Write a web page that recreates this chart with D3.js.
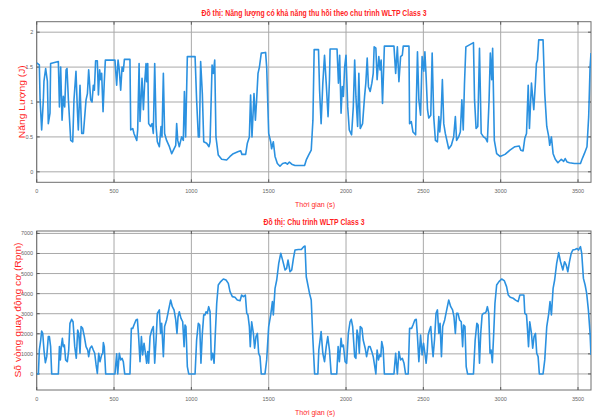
<!DOCTYPE html>
<html>
<head>
<meta charset="utf-8">
<script src="https://cdn.jsdelivr.net/npm/d3@7"></script>
<style>
  body { margin: 0; background: #fff; }
  svg { display: block; font-family: "Liberation Sans", Arial, sans-serif; }
</style>
</head>
<body>
<svg id="chart" width="592" height="419"></svg>
<script>
/************************************ Data *******************************/
var xTicks = [0, 500, 1000, 1500, 2000, 2500, 3000, 3500];
var energyTicks = [0, 0.5, 1, 1.5, 2];
var rpmTicks = [0, 1000, 2000, 3000, 4000, 5000, 6000, 7000];

// [time (s), energy (J)]
var energyPoints = [
  [0,1.56],[17,1.53],[22,1.03],[32,0.6],[43,1.03],[47,1.3],[58,1.48],[69,1.3],[75,0.69],[86,0.84],
  [90,1.55],[140,1.58],[147,0.93],[155,1.5],[164,0.74],[172,1.08],[181,0.93],[190,1.46],[196,1.48],[205,1.03],
  [220,0.45],[233,0.43],[241,1.03],[254,1.44],[263,0.89],[269,0.6],[280,1.24],[291,0.55],[302,0.55],[319,1.03],
  [328,1.12],[336,1.46],[349,1.03],[358,1.0],[366,1.24],[373,1.17],[381,1.59],[392,1.59],[399,1.1],[407,1.46],
  [414,1.32],[420,1.41],[429,0.86],[437,1.29],[444,1.6],[506,1.6],[517,1.24],[526,1.6],[534,1.46],[543,1.17],
  [552,1.5],[560,1.44],[567,1.61],[603,1.61],[608,0.6],[621,0.62],[629,0.55],[647,0.45],[653,0.6],[662,1.55],
  [668,0.72],[681,1.34],[690,0.89],[698,1.27],[707,1.55],[711,1.29],[718,1.55],[724,0.69],[737,0.65],[746,0.69],
  [754,0.55],[763,1.55],[772,0.65],[780,0.43],[793,0.36],[804,0.65],[810,0.5],[819,1.41],[827,0.55],[840,0.45],
  [858,0.36],[873,0.26],[884,0.31],[899,0.38],[905,0.69],[912,0.45],[922,0.36],[937,0.5],[948,0.45],[955,1.15],
  [963,0.5],[974,1.65],[1024,1.65],[1034,1.03],[1045,0.5],[1052,0.5],[1060,1.58],[1071,1.12],[1080,0.43],[1099,0.41],
  [1114,0.36],[1121,0.43],[1134,1.53],[1142,1.41],[1151,1.6],[1159,0.5],[1174,0.24],[1196,0.18],[1228,0.17],[1250,0.22],
  [1271,0.26],[1304,0.29],[1319,0.3],[1327,0.25],[1351,0.25],[1362,0.41],[1375,0.5],[1383,1.1],[1392,0.5],[1405,1.12],
  [1414,0.74],[1422,1.03],[1431,1.41],[1440,1.5],[1452,1.7],[1480,1.71],[1487,1.5],[1500,0.55],[1513,0.43],[1519,0.33],
  [1530,0.43],[1541,0.22],[1556,0.12],[1573,0.08],[1590,0.12],[1608,0.13],[1621,0.11],[1634,0.14],[1649,0.11],[1670,0.09],
  [1702,0.09],[1732,0.09],[1743,0.17],[1758,0.24],[1775,0.31],[1786,0.74],[1794,1.75],[1822,1.75],[1829,1.17],[1839,0.69],
  [1850,1.27],[1861,1.67],[1872,1.27],[1884,0.79],[1893,1.32],[1897,1.76],[1942,1.76],[1951,1.27],[1959,1.67],[1968,0.84],
  [1976,1.22],[1983,1.08],[1991,1.5],[2000,1.67],[2011,0.93],[2021,0.6],[2036,0.53],[2047,0.93],[2056,1.6],[2064,1.08],
  [2075,0.65],[2083,1.41],[2092,0.62],[2107,0.69],[2120,1.08],[2128,1.27],[2137,1.63],[2145,1.22],[2156,1.15],[2167,1.27],
  [2176,1.41],[2182,1.79],[2193,1.77],[2201,1.32],[2212,1.65],[2220,1.46],[2227,1.6],[2236,0.98],[2248,1.8],[2310,1.8],
  [2321,1.41],[2332,1.79],[2342,1.29],[2353,1.65],[2364,1.67],[2370,1.8],[2407,1.8],[2411,0.69],[2422,0.72],[2433,0.57],
  [2450,0.53],[2462,1.72],[2471,1.03],[2482,0.81],[2492,1.65],[2503,1.44],[2510,1.72],[2518,1.36],[2527,0.89],[2535,0.77],
  [2548,0.81],[2557,1.7],[2567,0.79],[2578,0.45],[2591,0.43],[2600,0.79],[2606,0.57],[2614,0.77],[2623,1.32],[2632,0.69],
  [2642,0.55],[2664,0.33],[2681,0.38],[2696,0.5],[2707,0.79],[2715,0.45],[2728,0.5],[2739,0.57],[2749,1.03],[2758,0.6],
  [2766,1.27],[2775,1.79],[2824,1.85],[2831,1.03],[2841,0.62],[2852,0.65],[2863,1.77],[2874,0.55],[2889,0.5],[2903,0.48],
  [2914,0.43],[2925,1.03],[2933,1.7],[2942,1.32],[2948,1.77],[2959,0.45],[2974,0.26],[2996,0.22],[3028,0.25],[3060,0.31],
  [3092,0.36],[3120,0.37],[3130,0.31],[3145,0.3],[3156,0.48],[3167,0.55],[3178,1.24],[3186,0.62],[3199,1.27],[3214,0.89],
  [3225,1.29],[3231,1.55],[3238,1.6],[3246,1.89],[3274,1.89],[3285,1.12],[3298,0.65],[3311,0.5],[3317,0.38],[3328,0.5],
  [3339,0.26],[3353,0.18],[3370,0.13],[3392,0.18],[3407,0.15],[3417,0.19],[3430,0.14],[3445,0.13],[3477,0.12],[3516,0.12],
  [3524,0.17],[3541,0.26],[3558,0.36],[3569,0.79],[3578,1.5],[3584,1.7]
];

// [time (s), engine speed (rpm)]
var rpmPoints = [
  [0,0],[11,0],[17,1190],[26,1690],[32,2140],[39,2020],[47,1190],[56,560],[65,860],[75,1860],
  [82,1860],[90,1360],[97,0],[140,0],[147,1360],[153,700],[159,1360],[166,1775],[172,1360],[179,1440],
  [187,700],[198,610],[207,1190],[215,2520],[226,2720],[235,2600],[246,1360],[256,780],[265,2190],[272,2020],
  [280,1030],[287,2360],[297,2270],[308,1860],[319,1360],[330,1190],[336,860],[345,1280],[356,1390],[366,1190],
  [375,1030],[384,450],[392,30],[401,1030],[409,610],[420,950],[427,1030],[431,1560],[437,1360],[446,0],
  [506,0],[517,1000],[524,0],[534,1030],[543,700],[552,780],[560,610],[569,0],[603,0],[612,2270],
  [621,2270],[629,2440],[642,2690],[651,2720],[659,1860],[668,610],[677,1860],[685,950],[694,1530],[703,1030],
  [711,530],[718,1110],[724,530],[733,1860],[744,2190],[754,2360],[763,530],[772,1690],[780,3020],[793,3190],
  [801,2020],[808,2520],[819,860],[827,2360],[840,2690],[853,3190],[866,3680],[877,3350],[888,3190],[899,2690],
  [907,2020],[914,2850],[922,3100],[933,2770],[944,2600],[953,1360],[959,2440],[965,2360],[974,365],[983,0],
  [1024,0],[1034,1690],[1045,2520],[1054,2440],[1062,530],[1071,2020],[1080,2940],[1088,2940],[1095,3100],[1103,3020],
  [1112,3350],[1121,3100],[1129,700],[1138,1030],[1147,530],[1155,2020],[1164,3520],[1174,4430],[1190,4600],[1207,4730],
  [1224,4680],[1239,4510],[1250,4100],[1265,3850],[1282,3820],[1297,3680],[1315,3650],[1325,3930],[1336,3850],[1349,3930],
  [1358,3020],[1366,2940],[1375,2360],[1381,1360],[1390,2600],[1401,2020],[1409,1280],[1418,1860],[1427,2020],[1435,1030],
  [1444,860],[1452,0],[1476,0],[1487,700],[1500,2360],[1513,2940],[1524,3600],[1530,2940],[1541,4260],[1552,4680],
  [1565,5510],[1578,6010],[1590,5670],[1606,5180],[1616,5260],[1625,5670],[1638,5090],[1649,5180],[1660,5760],[1670,6170],
  [1692,6200],[1711,6200],[1726,6340],[1735,6370],[1743,4840],[1764,4010],[1775,3680],[1786,1690],[1797,0],[1818,0],
  [1824,1190],[1839,2110],[1850,1030],[1861,610],[1872,1360],[1882,1860],[1893,1190],[1904,0],[1940,0],[1949,1360],
  [1957,610],[1968,1775],[1974,1360],[1983,1440],[1994,610],[2004,530],[2015,2020],[2026,2600],[2034,2720],[2043,2360],
  [2056,860],[2064,780],[2071,2190],[2079,1860],[2086,1030],[2092,2360],[2103,2270],[2111,1690],[2124,1280],[2133,860],
  [2146,1360],[2156,1360],[2167,1110],[2176,860],[2186,365],[2193,0],[2201,1190],[2210,700],[2218,950],[2225,860],
  [2231,1610],[2240,1280],[2248,0],[2310,0],[2321,1030],[2332,0],[2342,1110],[2353,700],[2364,780],[2375,530],
  [2385,0],[2402,0],[2411,2270],[2424,2270],[2433,2440],[2445,2690],[2454,2720],[2462,1860],[2471,610],[2482,1940],
  [2492,950],[2501,1530],[2510,1030],[2518,530],[2525,1110],[2531,1940],[2540,2190],[2548,2360],[2557,1360],[2563,860],
  [2572,1690],[2582,3020],[2591,3190],[2600,2020],[2608,2520],[2617,860],[2625,2360],[2638,2690],[2651,3190],[2664,3680],
  [2677,3350],[2689,3190],[2698,2850],[2707,2020],[2715,3020],[2724,3020],[2734,2690],[2745,2600],[2754,1360],[2760,2440],
  [2769,2360],[2777,365],[2786,0],[2824,0],[2835,1690],[2846,2520],[2854,2440],[2863,530],[2871,2020],[2880,2940],
  [2889,3020],[2897,3020],[2906,3100],[2914,3350],[2923,3020],[2931,1030],[2938,1190],[2946,560],[2955,2020],[2963,3520],
  [2974,4430],[2989,4600],[3006,4730],[3023,4650],[3038,4350],[3049,3930],[3062,3820],[3081,3770],[3096,3680],[3113,3600],
  [3124,3930],[3139,3930],[3150,3930],[3156,3020],[3167,2940],[3173,2270],[3180,1360],[3188,2600],[3199,2020],[3207,1280],
  [3216,1860],[3225,2020],[3233,1030],[3242,860],[3250,0],[3274,0],[3285,700],[3298,2360],[3311,3020],[3319,3600],
  [3328,2940],[3339,4260],[3349,4680],[3362,5510],[3375,6040],[3387,5590],[3402,5180],[3413,5590],[3424,5420],[3434,5090],
  [3445,5590],[3456,6010],[3466,6170],[3481,6200],[3494,6250],[3503,6170],[3516,6340],[3524,6010],[3535,4760],[3546,4430],
  [3556,4010],[3567,3190],[3578,2020],[3584,950]
];

/************************************ Drawing *******************************/
var svg = d3.select("#chart");
var red = "#ff1f1f", blue = "#2b91e0";
var x0 = 36.7, x1 = 591;

function drawPanel(cfg) {
  var x = d3.scaleLinear().domain([0, 3584]).range([x0, x1]);
  var y = d3.scaleLinear().domain(cfg.yDomain).range([cfg.bottom, cfg.top]);
  var g = svg.append("g");

  // grid
  g.selectAll(".gx").data(xTicks).enter().append("line")
    .attr("x1", d => x(d)).attr("x2", d => x(d))
    .attr("y1", cfg.top).attr("y2", cfg.bottom)
    .attr("stroke", "#a9a9a9").attr("stroke-width", 1);
  g.selectAll(".gy").data(cfg.yTicks).enter().append("line")
    .attr("x1", x0).attr("x2", x1)
    .attr("y1", d => y(d)).attr("y2", d => y(d))
    .attr("stroke", "#a9a9a9").attr("stroke-width", 1);

  // frame
  g.append("rect")
    .attr("x", x0).attr("y", cfg.top)
    .attr("width", x1 - x0).attr("height", cfg.bottom - cfg.top)
    .attr("fill", "none").attr("stroke", "#6e6e6e").attr("stroke-width", 1);

  // inner tick marks
  g.selectAll(".ty").data(cfg.yTicks).enter().append("path")
    .attr("d", d => "M" + x0 + "," + y(d) + "h3M" + x1 + "," + y(d) + "h-3")
    .attr("stroke", "#5a5a5a");
  g.selectAll(".tx").data(xTicks).enter().append("path")
    .attr("d", d => "M" + x(d) + "," + cfg.bottom + "v-3M" + x(d) + "," + cfg.top + "v3")
    .attr("stroke", "#5a5a5a");

  // tick labels
  g.selectAll(".lx").data(xTicks).enter().append("text")
    .attr("x", d => x(d)).attr("y", cfg.bottom + 10.5)
    .attr("text-anchor", "middle")
    .attr("font-size", 5.5).attr("fill", "#666")
    .text(d => d);
  g.selectAll(".ly").data(cfg.yTicks).enter().append("text")
    .attr("x", x0 - 3.5).attr("y", d => y(d) + 2)
    .attr("text-anchor", "end")
    .attr("font-size", 5.5).attr("fill", "#666")
    .text(d => d);

  // line
  var clipId = "clip" + cfg.id;
  svg.append("clipPath").attr("id", clipId).append("rect")
    .attr("x", x0).attr("y", cfg.top).attr("width", x1 - x0).attr("height", cfg.bottom - cfg.top);
  g.append("path")
    .datum(cfg.points)
    .attr("clip-path", "url(#" + clipId + ")")
    .attr("fill", "none").attr("stroke", blue)
    .attr("stroke-width", 1.6).attr("stroke-linejoin", "round")
    .attr("d", d3.line().x(d => x(d[0])).y(d => y(d[1])));

  // title and labels
  g.append("text")
    .attr("x", 314).attr("y", cfg.titleY)
    .attr("text-anchor", "middle").attr("font-weight", "bold")
    .attr("font-size", 8.5).attr("fill", red)
    .attr("textLength", cfg.titleLen).attr("lengthAdjust", "spacingAndGlyphs")
    .text(cfg.title);
  g.append("text")
    .attr("x", 315).attr("y", cfg.bottom + 24.5)
    .attr("text-anchor", "middle")
    .attr("font-size", 7.5).attr("fill", red)
    .attr("textLength", 40).attr("lengthAdjust", "spacingAndGlyphs")
    .text("Thời gian (s)");
  g.append("text")
    .attr("transform", "translate(" + cfg.yLabelX + "," + cfg.yLabelY + ") rotate(-90)")
    .attr("text-anchor", "middle")
    .attr("font-size", 9).attr("fill", red)
    .attr("textLength", cfg.yLabelLen).attr("lengthAdjust", "spacingAndGlyphs")
    .text(cfg.yLabel);
}

drawPanel({
  id: 1, top: 21.7, bottom: 182.3, yDomain: [-0.15, 2.15], yTicks: energyTicks,
  points: energyPoints,
  title: "Đồ thị: Năng lượng có khả năng thu hồi theo chu trình WLTP Class 3",
  titleY: 16, titleLen: 225,
  yLabel: "Năng Lượng (J)", yLabelX: 24.5, yLabelY: 101.7, yLabelLen: 73
});

drawPanel({
  id: 2, top: 231, bottom: 390, yDomain: [-800, 7120], yTicks: rpmTicks,
  points: rpmPoints,
  title: "Đồ thị: Chu trình WLTP Class 3",
  titleY: 225.3, titleLen: 101,
  yLabel: "Số vòng quay động cơ (Rpm)", yLabelX: 21, yLabelY: 310, yLabelLen: 135
});
</script>
</body>
</html>
